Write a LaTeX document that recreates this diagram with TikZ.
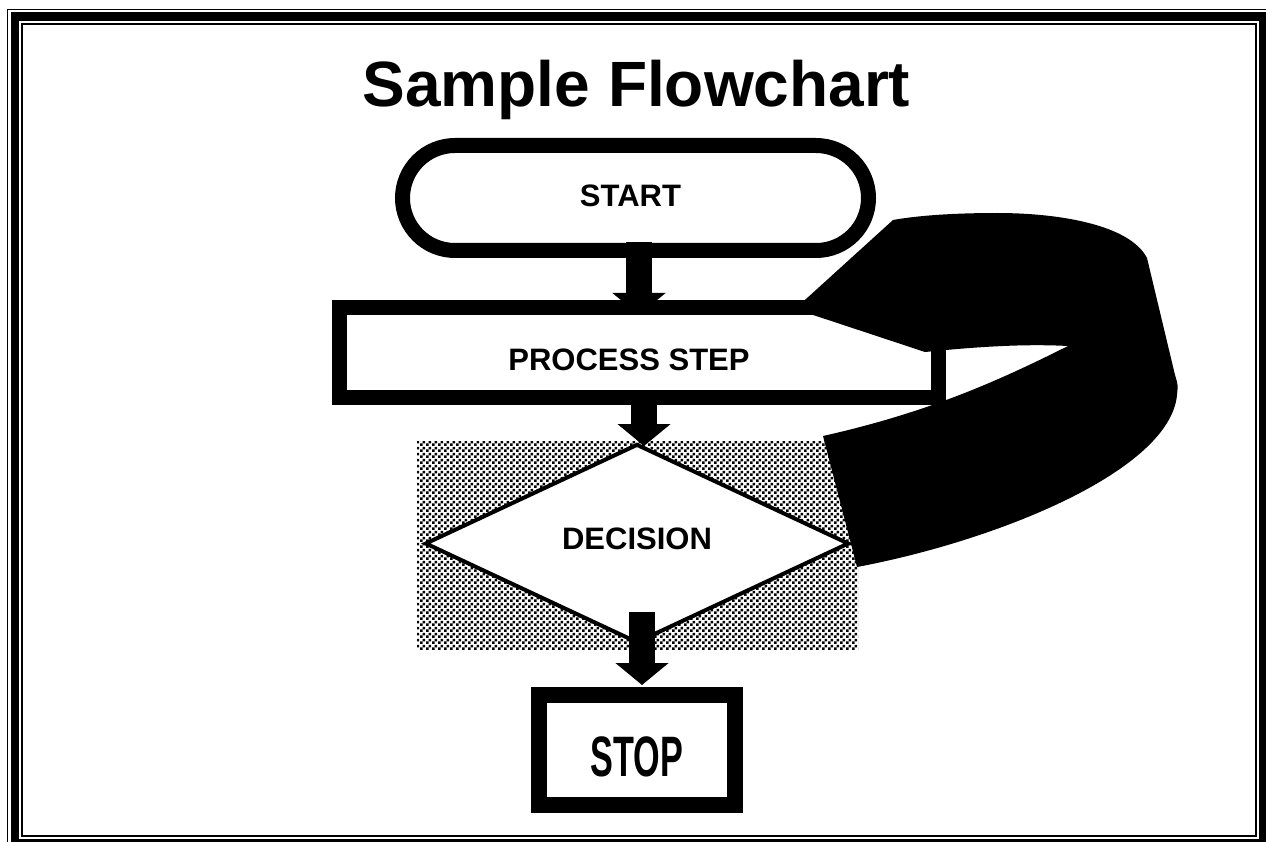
\documentclass[tikz,border=0pt]{standalone}
\usepackage{fontspec}
\setmainfont{Liberation Sans}
\usetikzlibrary{arrows.meta,positioning,shapes.geometric,patterns.meta}

\tikzdeclarepattern{name=checks,type=uncolored,
 bounding box={(0pt,0pt) and (6pt,6pt)},
 tile size={(6pt,6pt)},
 code={\fill (0pt,0pt) rectangle (3pt,3pt);
 \fill (3pt,3pt) rectangle (6pt,6pt);}}

\begin{document}
\begin{tikzpicture}[x=1pt,y=-1pt,
 lbl/.style={font=\fontsize{31}{36}\selectfont\bfseries},
 box/.style={draw=black,fill=white,line width=15pt,inner sep=0pt,lbl},
 blockarrow/.style={line width=26pt,-{Triangle[width=52pt,length=22pt]}}]
\useasboundingbox (0,0) rectangle (1266,842);
\fill[white] (0,0) rectangle (1266,842);
% page frame
\draw[line width=1.3pt] (7.5,9.5) rectangle (1275,850);
\draw[line width=8.5pt] (15,16.5) rectangle (1263,843);
\draw[line width=2pt] (22,24) rectangle (1256,836);
\node[font=\fontsize{64}{70}\selectfont\bfseries,anchor=base] (title) at (636.5,107) {Sample Flowchart};
\node[box,rounded corners=52.5pt,minimum width=466pt,minimum height=105pt,text depth=5pt] (start) at (635.5,198) {START\hspace*{10pt}};
\node[box,minimum width=599pt,minimum height=90pt,text height=35pt,text depth=0pt] (proc) at (639,352.5) {PROCESS STEP\hspace*{20pt}};
\fill[pattern=checks,pattern color=black] (417,441) rectangle (858,649);
\node[diamond,draw=black,fill=white,line width=4pt,inner sep=0pt,minimum width=424pt,minimum height=199pt,lbl,text depth=9pt] (dec) at (637,543.5) {DECISION};
\node[box,line width=16pt,minimum width=196pt,minimum height=110pt,text height=52pt,text depth=0pt,font=\fontsize{57}{60}\selectfont\bfseries] (stop) at (637,750) {\scalebox{0.6}[1]{STOP}};
\draw[blockarrow] ([xshift=3.5pt,yshift=16pt]start.south) -- ([yshift=-15pt]proc.north);
\draw[blockarrow] ([xshift=5pt,yshift=5pt]proc.south) -- ([xshift=7pt,yshift=-4pt]dec.north);
\draw[blockarrow] ([xshift=5pt,yshift=33pt]dec.south) -- ([xshift=5pt,yshift=2pt]stop.north);
% loop back from the decision to the process step
\fill (893,220) -- (795,309) -- (925,352) -- (946,350)
 .. controls (990,346) and (1030,344) .. (1068,346)
 .. controls (1000,380) and (930,412) .. (823,436) -- (857,567)
 .. controls (1000,540) and (1170,470) .. (1177,395)
 .. controls (1178,385) .. (1175,375) -- (1147,258)
 .. controls (1130,225) and (1060,213) .. (997,213)
 .. controls (950,213) and (915,216) .. (893,220) -- cycle;
\end{tikzpicture}
\end{document}
